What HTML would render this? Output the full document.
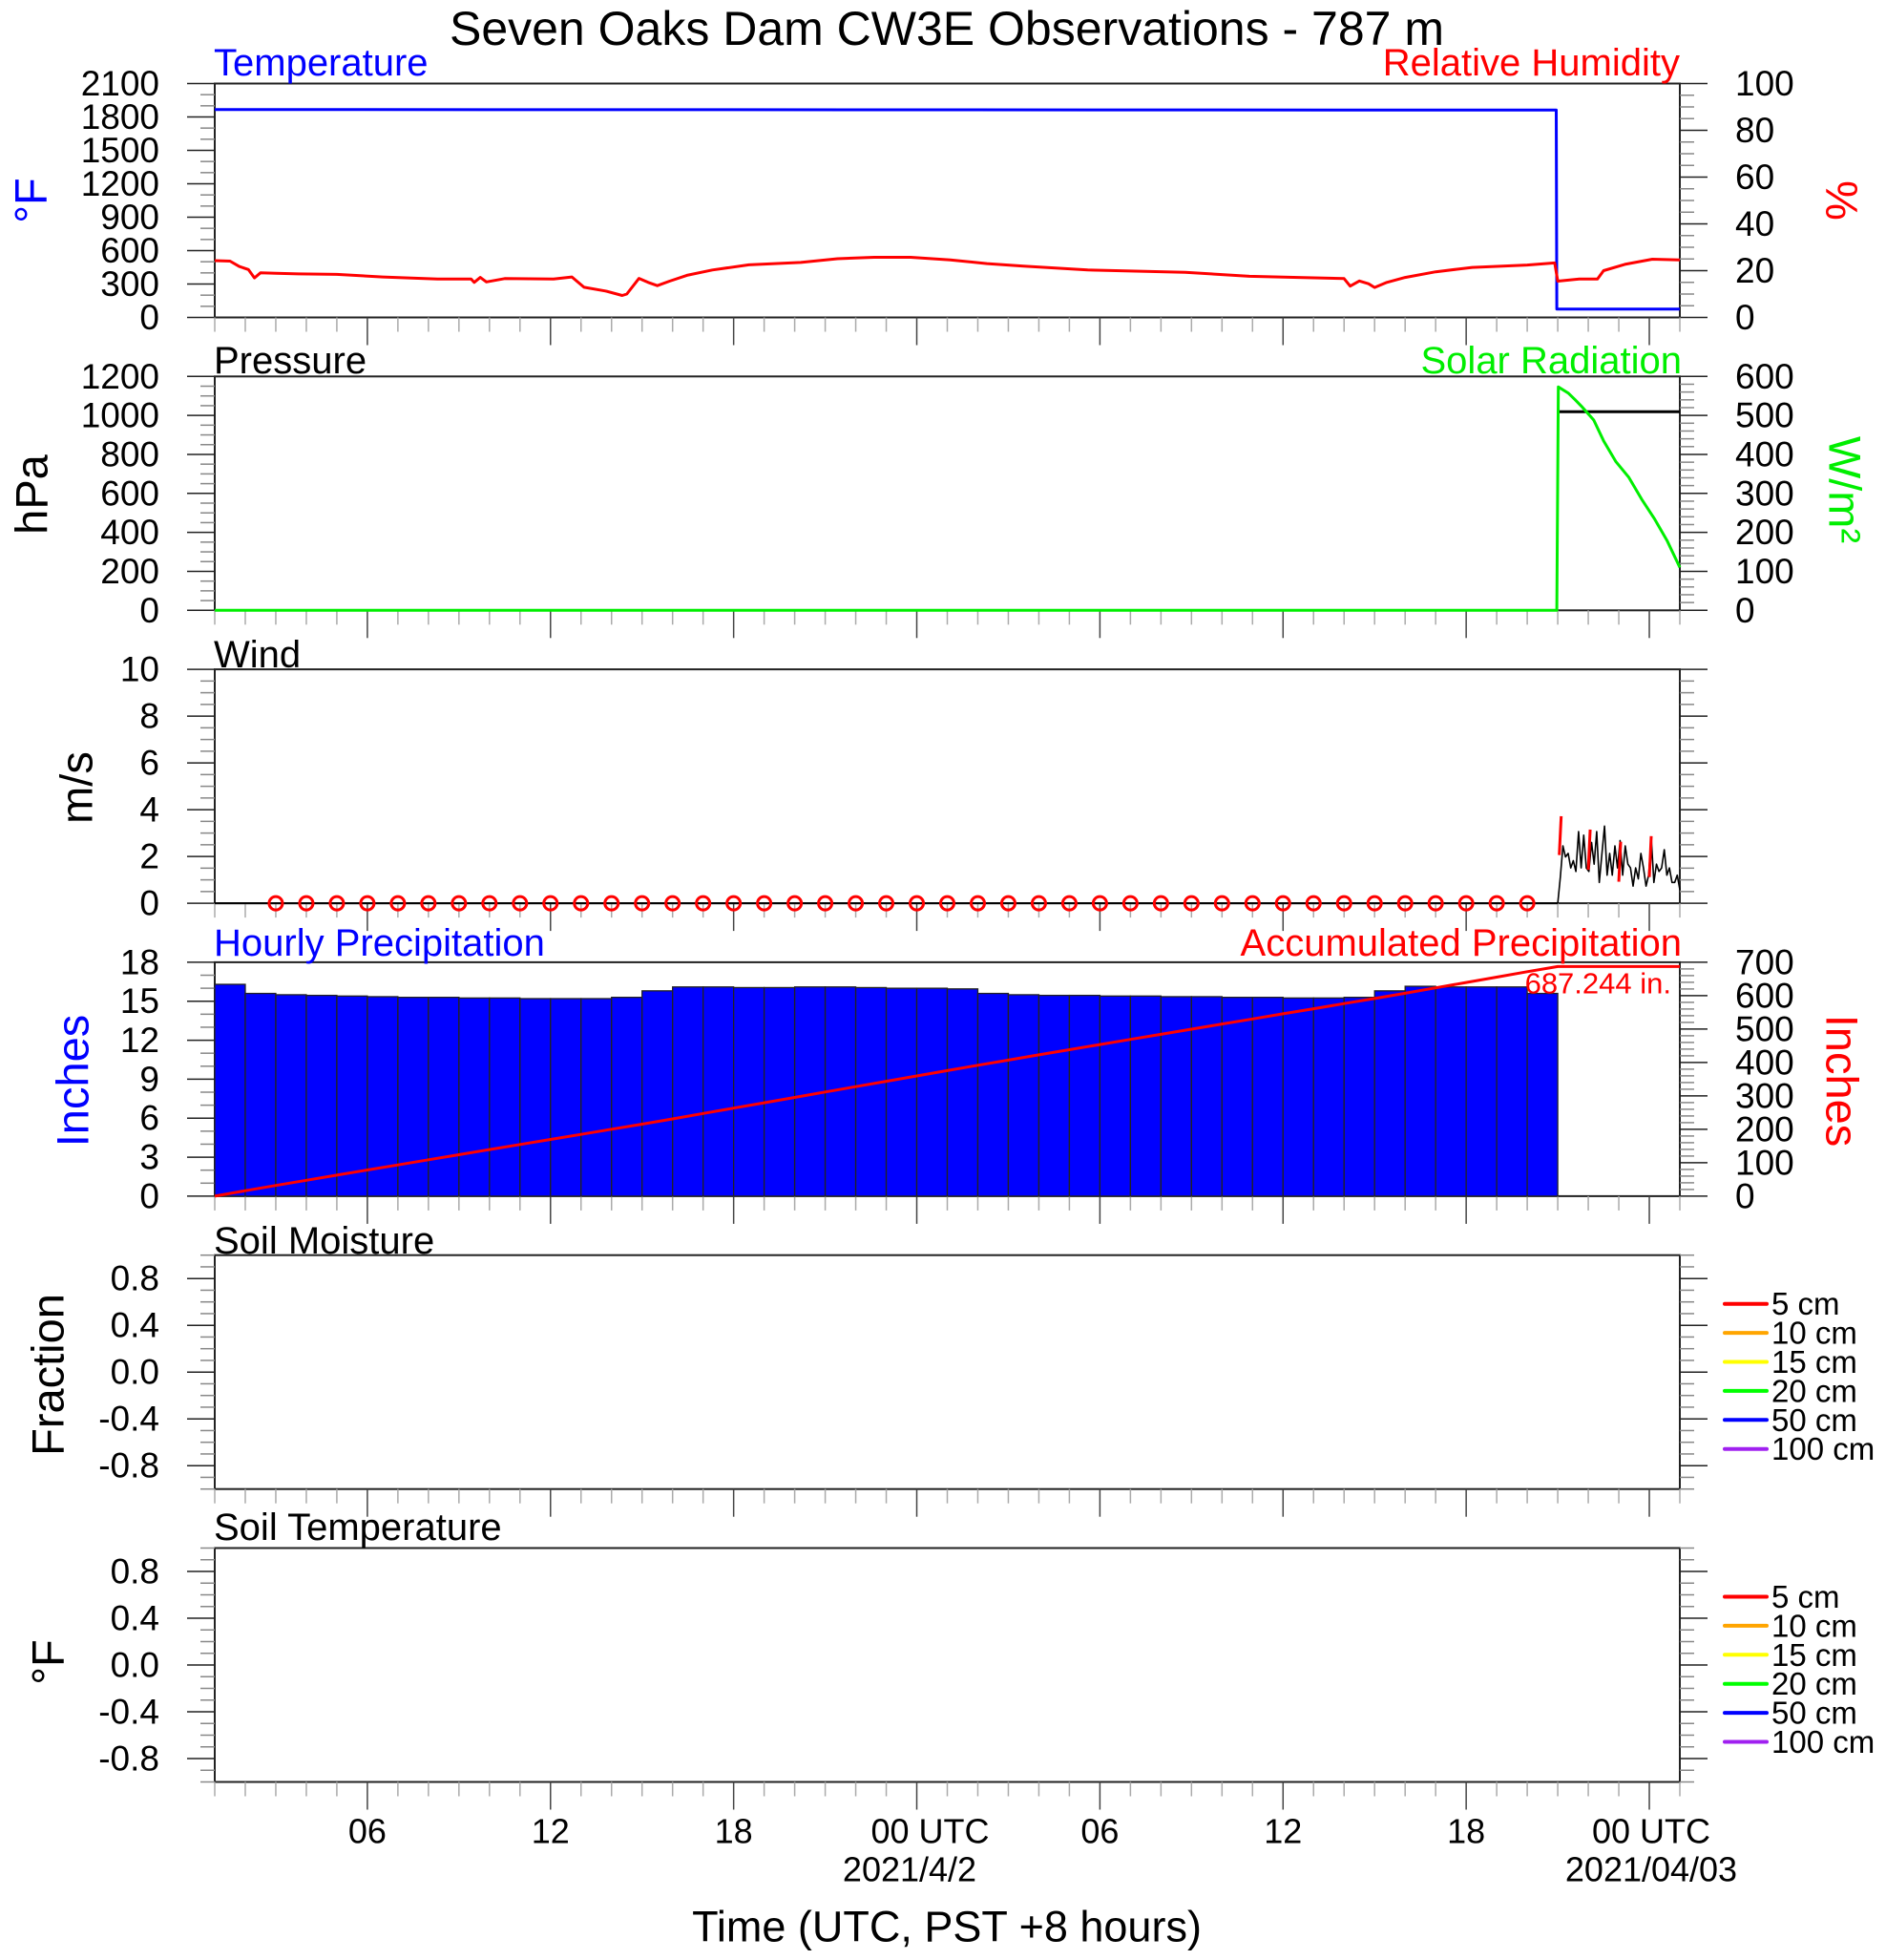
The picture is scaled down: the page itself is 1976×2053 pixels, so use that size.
<!DOCTYPE html>
<html><head><meta charset="utf-8"><style>
html,body{margin:0;padding:0;background:#fff;}
svg{display:block;font-family:"Liberation Sans",Arial,sans-serif;}
</style></head><body>
<svg id="chart" width="1976" height="2053" viewBox="0 0 1976 2053" xmlns="http://www.w3.org/2000/svg">
<text x="992" y="30" font-size="50" text-anchor="middle" dominant-baseline="central">Seven Oaks Dam CW3E Observations - 787 m</text>
</svg>
<script>
// ---------------- data ----------------
const tempTimes = [0, 43.95, 43.97, 48];
const tempValues = [1867, 1862, 75, 75];
const rhTimes = [0,0.5,0.8,1.1,1.3,1.5,2.0,2.75,4,5.5,7.3,8.4,8.5,8.7,8.9,9.5,11.1,11.7,12.1,12.8,13.35,13.5,13.9,14.2,14.5,14.9,15.47,16.3,17.5,19.2,20.4,21.6,22.8,24.1,25.3,26.5,28.6,31.8,33.9,35.5,37.0,37.2,37.5,37.8,38.0,38.4,39.0,40.0,40.7,41.2,43.0,43.9,44.0,44.7,45.3,45.5,46.2,47.1,48.0];
const rhValues = [24.3,24.1,21.8,20.5,16.9,19.1,18.9,18.6,18.4,17.3,16.4,16.4,15.0,17.1,15.2,16.6,16.4,17.3,12.9,11.3,9.4,10.0,16.7,15.0,13.6,15.5,18.0,20.3,22.5,23.5,25.1,25.7,25.7,24.6,23.0,21.9,20.3,19.3,17.6,17.1,16.6,13.4,15.6,14.4,12.8,15.0,17.1,19.5,20.6,21.4,22.4,23.3,15.5,16.4,16.4,20.0,22.7,24.9,24.6];
const presTimes = [44, 48];
const presValues = [1019, 1019];
const solarTimes = [0,43.97,44.02,44.35,44.56,44.77,45.18,45.5,45.9,46.33,46.75,47.16,47.58,48.0];
const solarValues = [0,0,573,557,541,524,488,435,382,341,285,236,179,110];
const windStart = 44, windEnd = 48;
const windValues = [0,1.12,2.45,1.98,2.13,1.51,1.82,1.36,3.06,1.51,2.91,1.51,1.36,2.6,1.67,3.06,0.89,2.13,3.3,1.2,2.13,1.2,2.45,1.51,2.68,1.2,2.45,1.67,1.51,0.73,1.51,1.04,2.13,1.51,0.73,1.2,2.76,0.89,1.67,1.36,1.51,2.29,1.2,1.51,0.89,0.89,1.2,0.58];
const gustTimes = [44.05,45.0,46.0,47.0];
const gustLow = [2.06,1.43,0.92,1.12];
const gustHigh = [3.72,3.15,2.63,2.87];
const missingWindHours = [2,3,4,5,6,7,8,9,10,11,12,13,14,15,16,17,18,19,20,21,22,23,24,25,26,27,28,29,30,31,32,33,34,35,36,37,38,39,40,41,42,43];
const hourlyPrecip = [16.3,15.6,15.5,15.45,15.4,15.35,15.3,15.3,15.25,15.25,15.2,15.2,15.2,15.3,15.8,16.1,16.1,16.05,16.05,16.1,16.1,16.05,16.0,16.0,15.95,15.6,15.5,15.45,15.45,15.4,15.4,15.35,15.35,15.3,15.3,15.25,15.25,15.3,15.8,16.15,16.1,16.1,16.1,15.6];
const accumTotal = 687.244;
const xTickLabels = ["06","12","18","00 UTC","06","12","18","00 UTC"];
const xTickHours = [5,11,17,23,29,35,41,47];
const legendLabels = ["5 cm","10 cm","15 cm","20 cm","50 cm","100 cm"];
const legendColors = ["#ff0000","#ffa500","#ffff00","#00ff00","#0000ff","#a020f0"];

// ---------------- layout ----------------
const NS = "http://www.w3.org/2000/svg";
const svg = document.getElementById("chart");
const X0 = 225, X1 = 1760, T1 = 48, PH = 245;
function ptop(k){ return 87.5 + k*306.8; }
function xs(t){ return X0 + (X1-X0)*t/T1; }
function ys(k,v,min,max){ return ptop(k) + PH - (v-min)/(max-min)*PH; }
function mk(tag, attrs, parent){
  const e = document.createElementNS(NS, tag);
  for (const a in attrs) e.setAttribute(a, attrs[a]);
  (parent||svg).appendChild(e);
  return e;
}
function txt(x,y,s,size,fill,anchor,rot){
  const e = mk("text",{x:x,y:y,"font-size":size,fill:fill||"#000","text-anchor":anchor||"start","dominant-baseline":"central"});
  if (rot) e.setAttribute("transform","rotate("+rot+" "+x+" "+y+")");
  e.textContent = s;
  return e;
}
function fmt(v,dec){ return dec ? v.toFixed(dec) : String(Math.round(v)); }

const panels = [
  {left:[0,2100,300,100,0], right:[0,100,20,5,0], rlab:true},
  {left:[0,1200,200,50,0], right:[0,600,100,20,0], rlab:true},
  {left:[0,10,2,0.5,0], right:[0,10,2,0.5,0], rlab:false},
  {left:[0,18,3,1,0], right:[0,700,100,20,0], rlab:true},
  {left:[-1,1,0.4,0.1,1], right:[-1,1,0.4,0.1,1], rlab:false},
  {left:[-1,1,0.4,0.1,1], right:[-1,1,0.4,0.1,1], rlab:false}
];
const panelNames = ["temperature-rh-panel","pressure-solar-panel","wind-panel","precipitation-panel","soil-moisture-panel","soil-temperature-panel"];

function axisTicks(k, cfg, side, labels){
  const [min,max,maj,minor,dec] = cfg;
  const n = Math.round((max-min)/minor);
  for (let i=0;i<=n;i++){
    const v = min + i*minor;
    const y = ys(k,v,min,max);
    let isMaj;
    if (dec) { isMaj = Math.abs(((v+0.8)/0.4) - Math.round((v+0.8)/0.4))<1e-6 && Math.abs(v)<0.9; }
    else { isMaj = Math.abs(v/maj - Math.round(v/maj))<1e-6; }
    const len = isMaj ? 29 : 15;
    const x = side==="left" ? X0 : X1;
    const l = mk("line",{x1:x,y1:y,x2: side==="left"? x-len : x+len, y2:y, stroke: isMaj?"#222":"#888","stroke-width":1.5});
    
    
    if (isMaj && labels){
      const s = dec ? v.toFixed(1).replace("-0.0","0.0") : fmt(v,0);
      const t = side==="left" ? txt(X0-58,y,s,37,"#000","end") : txt(X1+58,y,s,37,"#000","start");
      
      
    }
  }
}

for (let k=0;k<6;k++){
  const top = ptop(k);
  const g = mk("rect",{x:X0,y:top,width:X1-X0,height:PH,fill:"none",stroke:"#222","stroke-width":2});
  
  
  axisTicks(k, panels[k].left, "left", true);
  axisTicks(k, panels[k].right, "right", panels[k].rlab);
  for (let h=0;h<=48;h++){
    const isMaj = xTickHours.indexOf(h) >= 0;
    const len = isMaj ? 29 : 15;
    const x = xs(h);
    const l = mk("line",{x1:x,y1:top+PH,x2:x,y2:top+PH+len,stroke:isMaj?"#444":"#aaa","stroke-width":1.5});
    
    
  }
}

function poly(k, times, vals, min, max, color, w, name){
  const pts = times.map((t,i)=>xs(t).toFixed(1)+","+ys(k,vals[i],min,max).toFixed(1)).join(" ");
  const p = mk("polyline",{points:pts,fill:"none",stroke:color,"stroke-width":w,"stroke-linejoin":"round"});
  
  
  return p;
}

// Panel 1
poly(0, tempTimes, tempValues, 0, 2100, "#0000ff", 3, "temperature-line");
poly(0, rhTimes, rhValues, 0, 100, "#ff0000", 3, "relative-humidity-line");
// Panel 2
poly(1, [0,44], [0,0], 0, 1200, "#000", 2, "pressure-baseline");
poly(1, presTimes, presValues, 0, 1200, "#000", 3, "pressure-line");
poly(1, solarTimes, solarValues, 0, 600, "#00ee00", 3, "solar-radiation-line");
// Panel 3 wind
poly(2, [0,44], [0,0], 0, 10, "#000", 2, "wind-speed-zero-line");
const windTimes = windValues.map((v,i)=> windStart + (windEnd-windStart)*i/(windValues.length-1));
poly(2, windTimes, windValues, 0, 10, "#000", 1.6, "wind-speed-line");
for (let i=0;i<gustTimes.length;i++){
  const l = mk("line",{x1:xs(gustTimes[i]),y1:ys(2,gustLow[i],0,10),x2:xs(gustTimes[i])+2,y2:ys(2,gustHigh[i],0,10),stroke:"#ff0000","stroke-width":3});
  
  
}
for (const h of missingWindHours){
  const c = mk("circle",{cx:xs(h),cy:ys(2,0,0,10),r:7,fill:"none",stroke:"#ff0000","stroke-width":3});
  
  
}
// Panel 4 precipitation
for (let i=0;i<hourlyPrecip.length;i++){
  const y = ys(3,hourlyPrecip[i],0,18);
  const r = mk("rect",{x:xs(i),y:y,width:xs(i+1)-xs(i),height:ptop(3)+PH-y,fill:"#0000ff",stroke:"#222","stroke-width":1.3});
  
  
}
const accTimes=[0], accVals=[0];
let sum=0;
const precipSum = hourlyPrecip.reduce((a,b)=>a+b,0);
for (let i=0;i<hourlyPrecip.length;i++){ sum += hourlyPrecip[i]; accTimes.push(i+1); accVals.push(sum*accumTotal/precipSum); }
accTimes.push(48); accVals.push(accumTotal);
poly(3, accTimes, accVals, 0, 700, "#ff0000", 3, "accumulated-precip-line");
const accLab = txt(1751, 1030, accumTotal.toFixed(3)+" in.", 31, "#ff0000", "end");



// legends
for (const k of [4,5]){
  for (let i=0;i<legendLabels.length;i++){
    const y = ptop(k) + 51 + i*30.4;
    const l = mk("line",{x1:1807,y1:y,x2:1851,y2:y,stroke:legendColors[i],"stroke-width":4,"stroke-linecap":"round"});
    
    
    const t = txt(1856, y, legendLabels[i], 33, "#000", "start");
    
    
  }
}

// titles
const titles = [
  [224, 66, "Temperature", "#0000ff", "start"], [1760, 66, "Relative Humidity", "#ff0000", "end"],
  [224, 378, "Pressure", "#000", "start"], [1762, 378, "Solar Radiation", "#00ee00", "end"],
  [224, 686, "Wind", "#000", "start"],
  [224, 988, "Hourly Precipitation", "#0000ff", "start"], [1762, 988, "Accumulated Precipitation", "#ff0000", "end"],
  [224, 1300, "Soil Moisture", "#000", "start"], [224, 1600, "Soil Temperature", "#000", "start"]
];
for (const t of titles){
  const e = txt(t[0], t[1], t[2], 40, t[3], t[4]);
  
  
}
// axis titles
const ytl = [
  [32,210,"°F","#0000ff",-90],[1930,210,"%","#ff0000",90],
  [33,518,"hPa","#000",-90],[1933,513,"W/m²","#00ee00",90],
  [80,825,"m/s","#000",-90],
  [76,1132,"Inches","#0000ff",-90],[1930,1132,"Inches","#ff0000",90],
  [50,1440,"Fraction","#000",-90],[50,1741,"°F","#000",-90]
];
for (const a of ytl){
  const e = txt(a[0], a[1], a[2], 47, a[3], "middle", a[4]);
  
  
}
// x tick labels
for (let i=0;i<xTickHours.length;i++){
  let x = xs(xTickHours[i]);
  if (xTickLabels[i]==="00 UTC") x += (i===3?14:2);
  const e = txt(x, 1918, xTickLabels[i], 36, "#000", "middle");
  
  
}
const d1 = txt(953, 1958, "2021/4/2", 36, "#000", "middle");


const d2 = txt(1730, 1958, "2021/04/03", 36, "#000", "middle");


const xt = txt(992, 2018, "Time (UTC, PST +8 hours)", 45, "#000", "middle");


</script>
</body></html>
